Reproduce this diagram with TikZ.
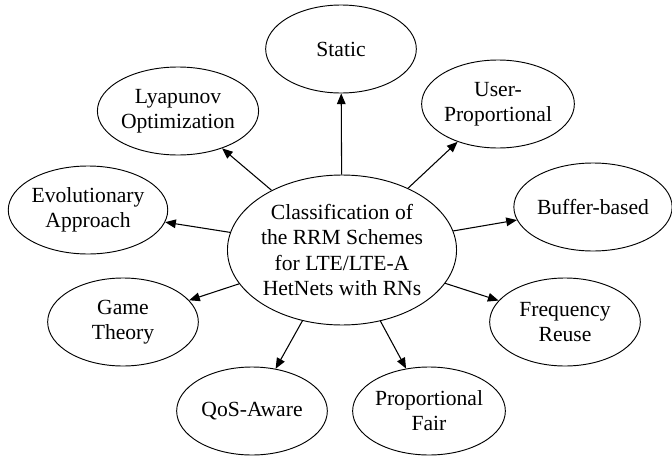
\documentclass[tikz,border=0pt]{standalone}
\usepackage{fontspec}
\setmainfont{Liberation Serif}
\usetikzlibrary{shapes.geometric,arrows.meta}

\begin{document}
\begin{tikzpicture}[x=0.75pt,y=-0.75pt,
  scheme/.style={draw,line width=0.7pt,ellipse,inner sep=0pt,minimum width=113pt,minimum height=66pt,align=center,font=\fontsize{16.2pt}{18.8pt}\selectfont},
  link/.style={line width=0.8pt,-{Triangle[length=8pt,width=6.5pt]}}]

\useasboundingbox (0,0) rectangle (672,457);

\node [scheme,minimum width=163.5pt,minimum height=112.5pt] (rrm) at (342,250)
  {Classification of\\the RRM Schemes\\for LTE/LTE-A\\HetNets with RNs};

\node [scheme] (static) at (341,49) {Static};
\node [scheme] (user) at (498,104) {User-\\Proportional};
\node [scheme] (buffer) at (593,207) {Buffer-based};
\node [scheme] (freq) at (565,322) {Frequency\\Reuse};
\node [scheme] (pf) at (429,411) {Proportional\\Fair};
\node [scheme] (qos) at (252,411) {QoS-Aware};
\node [scheme] (game) at (123,322) {Game\\Theory};
\node [scheme] (evo) at (88,210) {Evolutionary\\Approach};
\node [scheme] (lyap) at (178,111) {Lyapunov\\Optimization};

% arrows from the centre
\foreach \n in {static,user,buffer,freq,pf,qos,game,evo,lyap}
  \draw[link] (rrm) -- (\n);

\end{tikzpicture}
\end{document}
